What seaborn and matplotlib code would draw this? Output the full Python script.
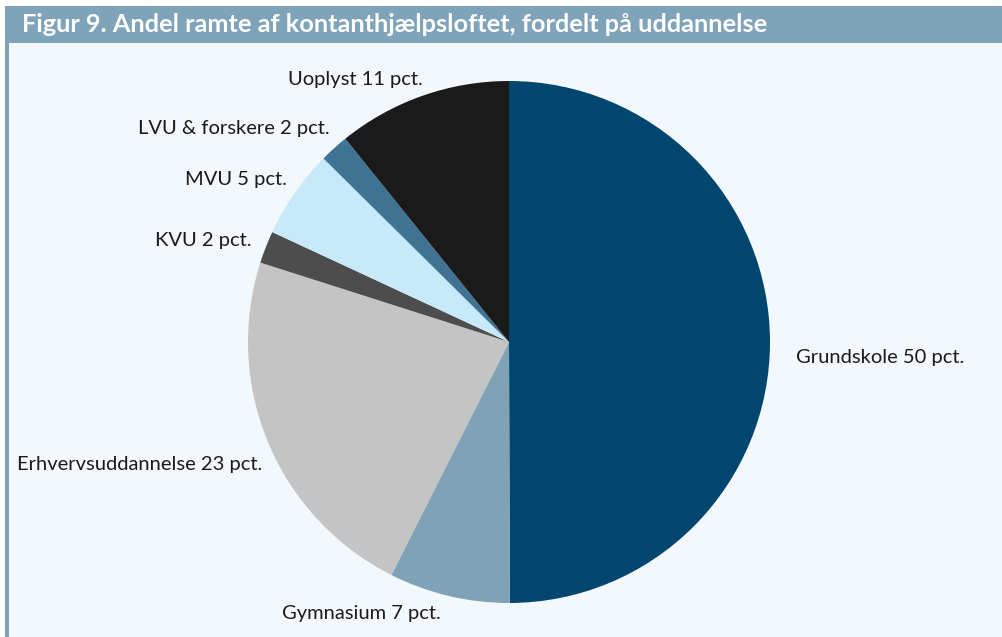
import matplotlib
matplotlib.use("Agg")
import matplotlib.pyplot as plt
from matplotlib.patches import Rectangle
import seaborn as sns

categories = ["Grundskole", "Gymnasium", "Erhvervsuddannelse", "KVU", "MVU", "LVU & forskere", "Uoplyst"]
values = [50.0, 7.5, 22.5, 2.0, 5.5, 1.8, 10.8]
label_pct = [50, 7, 23, 2, 5, 2, 11]
colors = ["#00466e", "#7fa2b7", "#c4c4c4", "#4d4d4d", "#c8e9f9", "#3e7394", "#1a1a1a"]

# label nudges in pixels (right, down) - layout only
label_nudge = [(0, 16), (-2, -8), (18, 11), (10, 3), (14, 1), (13, 0), (9, 8)]

sns.set_theme(style="white")
plt.rcParams["font.family"] = ["Lato", "DejaVu Sans"]

W, H = 1002, 637
fig = plt.figure(figsize=(W / 100, H / 100), dpi=100, facecolor="white")

def px_rect(x0, y0, x1, y1, color):
    fig.patches.append(Rectangle((x0 / W, 1 - y1 / H), (x1 - x0) / W, (y1 - y0) / H,
                                 transform=fig.transFigure, facecolor=color,
                                 edgecolor="none", zorder=-5))

px_rect(9, 43, W, H, "#f3f8fc")
px_rect(5, 6, W, 43, "#7fa3b8")
px_rect(5, 6, 9, H, "#7fa3b8")

fig.text(22 / W, 1 - 25 / H, "Figur 9. Andel ramte af kontanthjælpsloftet, fordelt på uddannelse",
         color="white", fontsize=18.3, fontweight="bold", va="center", ha="left")

cx, cy, r = 509, 342, 261
ax = fig.add_axes([(cx - r) / W, (H - cy - r) / H, 2 * r / W, 2 * r / H])
ax.set_facecolor("none")
ax.set_zorder(1)
labels = [f"{c} {p} pct." for c, p in zip(categories, label_pct)]
wedges, texts = ax.pie(values, labels=labels, colors=colors, startangle=90,
                       counterclock=False, labeldistance=1.1,
                       wedgeprops=dict(linewidth=0),
                       textprops=dict(fontsize=14.5, color="#1a1a1a"))
for t, (dx, dy) in zip(texts, label_nudge):
    x, y = t.get_position()
    t.set_position((x + dx / r, y - dy / r))
ax.set_xlim(-1, 1)
ax.set_ylim(-1, 1)
ax.set_aspect("equal")
ax.axis("off")

fig.savefig("out.png", dpi=100, facecolor="white")
